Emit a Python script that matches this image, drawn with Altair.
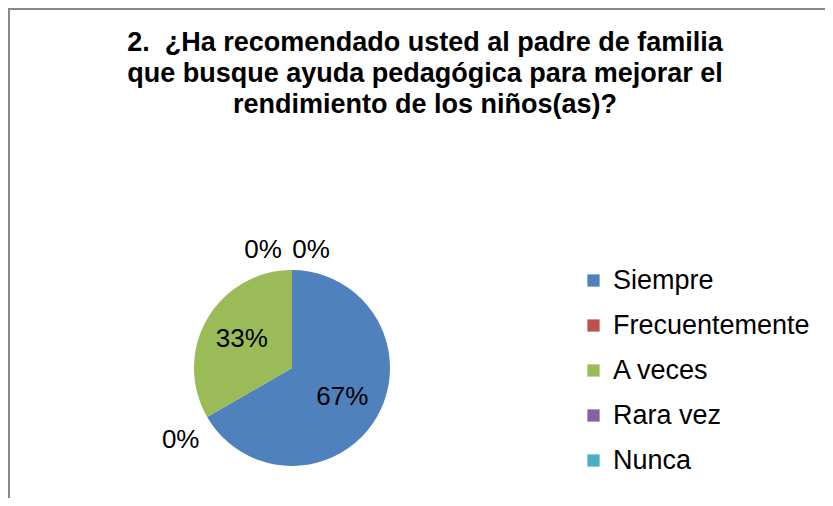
import altair as alt
import pandas as pd

categories = ["Siempre", "Frecuentemente", "A veces", "Rara vez", "Nunca"]
values = [66.67, 0, 33.33, 0, 0]
labels = ["67%", "0%", "33%", "0%", "0%"]
colors = ["#4F81BD", "#C0504D", "#9BBB59", "#8064A2", "#4BACC6"]
title_lines = [
    "2.\u00a0 ¿Ha recomendado usted al padre de familia",
    "que busque ayuda pedagógica para mejorar el",
    "rendimiento de los niños(as)?",
]

df = pd.DataFrame({
    "cat": categories,
    "value": values,
    "label": labels,
    "order": list(range(len(categories))),
})

FONT = "Liberation Sans"
CX, CY = 284, 360

base = alt.Chart(df).encode(
    theta=alt.Theta("value:Q", stack=True),
    order=alt.Order("order:Q"),
)

pie = base.mark_arc(outerRadius=98).encode(
    x=alt.value(CX),
    y=alt.value(CY),
    color=alt.Color(
        "cat:N",
        scale=alt.Scale(domain=categories, range=colors),
        sort=categories,
        legend=alt.Legend(
            title=None,
            orient="none",
            legendX=572,
            legendY=259,
            symbolType="square",
            symbolSize=150,
            symbolStrokeWidth=0,
            labelFont=FONT,
            labelFontSize=27,
            labelColor="#000000",
            labelLimit=400,
            rowPadding=17,
            symbolOffset=0,
            labelOffset=6,
        ),
    ),
)

txt_style = dict(font=FONT, fontSize=26, color="#000000")


def label_layer(cats, **mark_kw):
    cond_text = alt.condition(
        alt.FieldOneOfPredicate(field="cat", oneOf=cats),
        alt.Text("label:N"),
        alt.value(""),
    )
    return base.mark_text(**txt_style, **mark_kw).encode(
        x=alt.value(CX), y=alt.value(CY), text=cond_text
    )


inner = label_layer(["Siempre", "A veces"], radius=58)
zero1 = label_layer(["Frecuentemente"], radius=132, dx=3, dy=6)
zero2 = label_layer(["Rara vez"], radius=118, dx=-29)
zero3 = label_layer(["Nunca"], radius=118, dx=19)

title = alt.Chart(pd.DataFrame({"t": ["\n".join(title_lines)]})).mark_text(
    font=FONT, fontSize=27, fontWeight="bold", color="#000000",
    align="center", baseline="top", lineBreak="\n", lineHeight=31,
).encode(text="t:N", x=alt.value(417), y=alt.value(22))

border_left = alt.Chart(pd.DataFrame({"a": [0]})).mark_rule(
    color="#888888", strokeWidth=2
).encode(x=alt.value(1), y=alt.value(0), y2=alt.value(490))

border_top = alt.Chart(pd.DataFrame({"a": [0]})).mark_rule(
    color="#888888", strokeWidth=2
).encode(x=alt.value(0), x2=alt.value(817), y=alt.value(1))

chart = alt.layer(
    border_left, border_top, title, pie, inner, zero1, zero2, zero3
).properties(
    width=817, height=490,
    autosize=alt.AutoSizeParams(type="none"),
    padding=0,
).configure_view(stroke=None)

chart.save("out.html", embed_options={"renderer": "svg", "actions": False})
